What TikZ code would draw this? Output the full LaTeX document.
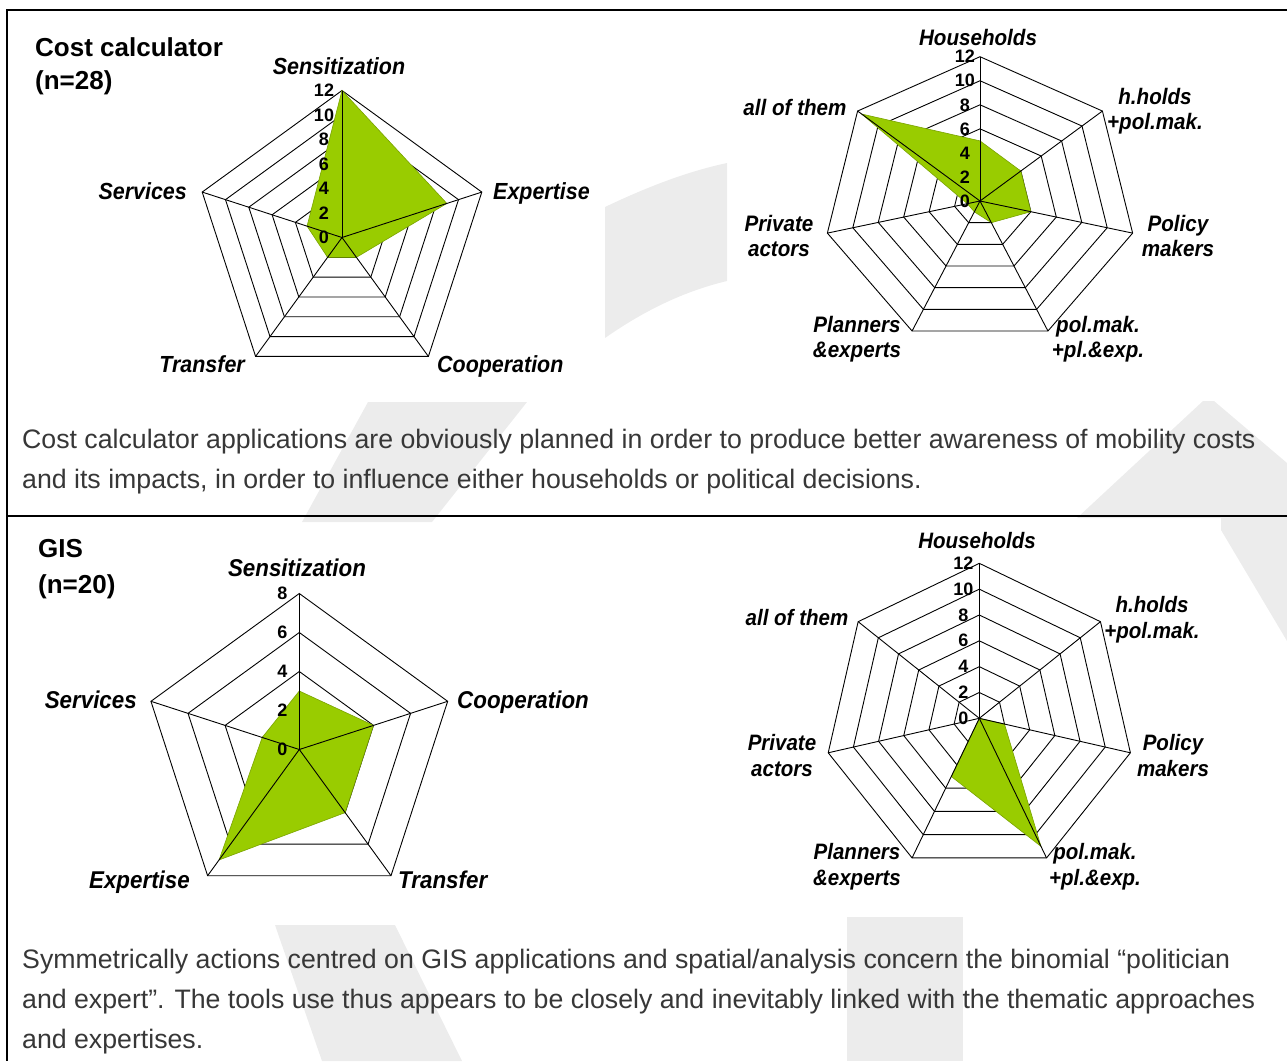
\documentclass[tikz,border=0pt]{standalone}
\usepackage{fontspec}
\setmainfont{Liberation Sans}
\newfontfamily\chartfont[FakeStretch=0.92]{Liberation Sans}
\definecolor{radargreen}{RGB}{153,204,0}
\definecolor{wmark}{RGB}{236,236,236}
\definecolor{bodytext}{RGB}{55,55,55}
\tikzset{
  web/.style={draw=black, line width=0.9pt},
  datafill/.style={fill=radargreen, draw=radargreen!80!black, line width=0.6pt},
  axlab/.style 2 args={font=\chartfont\bfseries\itshape\fontsize{#1}{#2}\selectfont, inner sep=0pt, align=center},
  tick/.style={font=\bfseries\fontsize{18}{18}\selectfont, inner sep=0pt},
  title/.style={font=\bfseries\fontsize{26}{#1}\selectfont, inner sep=0pt, align=left, anchor=north west},
  body/.style={font=\fontsize{26.7}{40}\selectfont, text=bodytext, inner sep=0pt, anchor=base west},
  frame/.style={draw=black, line width=2pt}
}
\begin{document}
\begin{tikzpicture}[x=1pt, y=-1pt]
\useasboundingbox (0,0) rectangle (1287,1061);
% watermark behind the charts
\fill[wmark] (605,207) .. controls (645,188) and (685,172) .. (727,163) -- (727,281) .. controls (685,291) and (645,310) .. (605,338) -- cycle;
\fill[wmark] (368,402) -- (527,402) -- (432,522) -- (302,522) -- cycle;
\fill[wmark] (1077,518) -- (1203,401) -- (1214,401) -- (1287,463) -- (1287,641) -- (1221,530) -- (1221,518) -- cycle;
\fill[wmark] (275,925) -- (395,925) -- (462,1061) -- (322,1061) -- cycle;
\fill[wmark] (847,917) rectangle (963,1061);
% frame
\draw[frame] (1287,10) -- (7,10) -- (7,1061);
\draw[frame] (7,516) -- (1287,516);

% Cost calculator
\node[title=33] (cctitle) at (35,37) {Cost calculator\\(n=28)};

\begin{scope}[shift={(342,237.5)}, y=1pt]
  \foreach \r in {1,...,6}
    \draw[web] (90:\r*24.5) \foreach \k in {1,...,4} {-- (90-\k*72:\r*24.5)} -- cycle;
  \filldraw[datafill] (90:12*12.25) -- (18:9*12.25) -- (-54:2*12.25) -- (-126:2*12.25) -- (162:3*12.25) -- cycle;
  \foreach \k in {0,...,4} \draw[web] (0,0) -- (90-\k*72:147);
  \foreach \v in {0,2,...,12} \node[tick] (c1t\v) at (-18,\v*12.25) {\v};
\end{scope}
\node[axlab={23.3}{27}, anchor=north] (c1sens) at (339,57) {Sensitization};
\node[axlab={23.3}{27}, anchor=north west] (c1exp) at (493,182) {Expertise};
\node[axlab={23.3}{27}, anchor=north west] (c1coop) at (437,355) {Cooperation};
\node[axlab={23.3}{27}, anchor=north east] (c1trans) at (245,355) {Transfer};
\node[axlab={23.3}{27}, anchor=north east] (c1serv) at (187,182) {Services};

\begin{scope}[shift={(980,201)}, x=1.085pt, y=1pt]
  \foreach \r in {1,...,6}
    \draw[web] (90:\r*24.05) \foreach \k in {1,...,6} {-- (90-\k*360/7:\r*24.05)} -- cycle;
  \filldraw[datafill] (90:5*12.025) -- (90-360/7:4*12.025) -- (90-720/7:4*12.025) -- (90-1080/7:2*12.025)
    -- (90-1440/7:1*12.025) -- (90-1800/7:1*12.025) -- (90-2160/7:11.6*12.025) -- cycle;
  \foreach \k in {0,...,6} \draw[web] (0,0) -- (90-\k*360/7:144.3);
  \foreach \v in {0,2,...,12} \node[tick] (c2t\v) at (-14,\v*12.025) {\v};
\end{scope}
\node[axlab={22.4}{25}, anchor=north] (c2hh) at (978,29) {Households};
\node[axlab={22.4}{25}, anchor=north] (c2hhpm) at (1155,88) {h.holds\\+pol.mak.};
\node[axlab={22.4}{25}, anchor=north] (c2pm) at (1178,215) {Policy\\makers};
\node[axlab={22.4}{25}, anchor=north] (c2pmpe) at (1098,316) {pol.mak.\\+pl.\&exp.};
\node[axlab={22.4}{25}, anchor=north] (c2pe) at (857,316) {Planners\\\&experts};
\node[axlab={22.4}{25}, anchor=north] (c2pa) at (779,215) {Private\\actors};
\node[axlab={22.4}{25}, anchor=north] (c2all) at (795,99) {all of them};

\node[body] (p1a) at (22,448.5) {Cost calculator applications are obviously planned in order to produce better awareness of mobility costs};
\node[body] (p1b) at (22,488.5) {and its impacts, in order to influence either households or political decisions.};

% GIS
\node[title=36] (gistitle) at (38,539) {GIS\\(n=20)};

\begin{scope}[shift={(299.3,749.5)}, y=1pt]
  \foreach \r in {1,...,4}
    \draw[web] (90:\r*39) \foreach \k in {1,...,4} {-- (90-\k*72:\r*39)} -- cycle;
  \filldraw[datafill] (90:3*19.5) -- (18:4*19.5) -- (-54:4*19.5) -- (-126:7*19.5) -- (162:2*19.5) -- cycle;
  \foreach \k in {0,...,4} \draw[web] (0,0) -- (90-\k*72:156);
  \foreach \v in {0,2,...,8} \node[tick] (c3t\v) at (-17,\v*19.5) {\v};
\end{scope}
\node[axlab={24.3}{28}, anchor=north] (c3sens) at (297,559) {Sensitization};
\node[axlab={24.3}{28}, anchor=north west] (c3coop) at (457,691) {Cooperation};
\node[axlab={24.3}{28}, anchor=north west] (c3trans) at (398,871) {Transfer};
\node[axlab={24.3}{28}, anchor=north east] (c3exp) at (190,871) {Expertise};
\node[axlab={24.3}{28}, anchor=north east] (c3serv) at (137,691) {Services};

\begin{scope}[shift={(979.3,718.3)}, y=1pt]
  \foreach \r in {1,...,6}
    \draw[web] (90:\r*25.83) \foreach \k in {1,...,6} {-- (90-\k*360/7:\r*25.83)} -- cycle;
  \filldraw[datafill] (90:0) -- (90-360/7:0) -- (90-720/7:2*12.92) -- (90-1080/7:11*12.92)
    -- (90-1440/7:5*12.92) -- (90-1800/7:0) -- (90-2160/7:0) -- cycle;
  \foreach \k in {0,...,6} \draw[web] (0,0) -- (90-\k*360/7:155);
  \foreach \v in {0,2,...,12} \node[tick] (c4t\v) at (-16,\v*12.92) {\v};
\end{scope}
\node[axlab={22.3}{26}, anchor=north] (c4hh) at (977,532) {Households};
\node[axlab={22.3}{26}, anchor=north] (c4hhpm) at (1152,596) {h.holds\\+pol.mak.};
\node[axlab={22.3}{26}, anchor=north] (c4pm) at (1173,734) {Policy\\makers};
\node[axlab={22.3}{26}, anchor=north] (c4pmpe) at (1095,843) {pol.mak.\\+pl.\&exp.};
\node[axlab={22.3}{26}, anchor=north] (c4pe) at (857,843) {Planners\\\&experts};
\node[axlab={22.3}{26}, anchor=north] (c4pa) at (782,734) {Private\\actors};
\node[axlab={22.3}{26}, anchor=north] (c4all) at (797,609) {all of them};

\node[body] (p2a) at (22,968.5) {Symmetrically actions centred on GIS applications and spatial/analysis concern the binomial “politician};
\node[body] (p2b) at (22,1008.5) {and expert”. The tools use thus appears to be closely and inevitably linked with the thematic approaches};
\node[body] (p2c) at (22,1048.5) {and expertises.};
\end{tikzpicture}
\end{document}
